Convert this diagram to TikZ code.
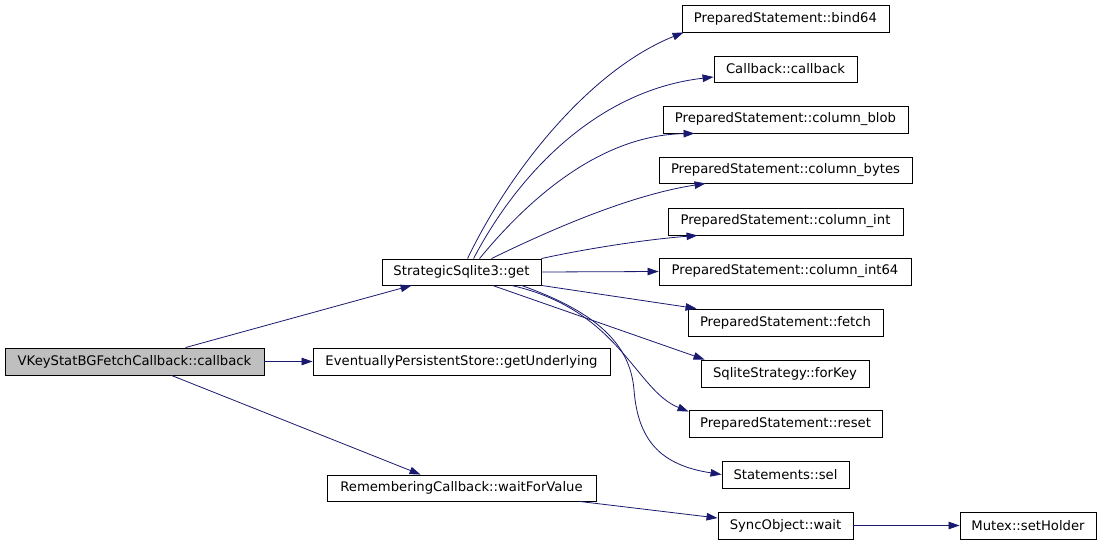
\documentclass[tikz,border=0pt]{standalone}
\usepackage{fontspec}
\setmainfont{DejaVu Sans}
\usetikzlibrary{arrows.meta}
\definecolor{edgeblue}{RGB}{25,25,112}
\definecolor{curgray}{RGB}{191,191,191}
\begin{document}
\begin{tikzpicture}[x=1pt,y=-1pt,
  box/.style={draw=black,line width=0.9pt,inner sep=0pt,font=\fontsize{13.2}{15}\selectfont},
  call/.style={draw=edgeblue,line width=0.8pt,-{Triangle[length=11pt,width=7.5pt]}}]
\useasboundingbox[fill=white] (0,0) rectangle (1101,544);
% nodes
\node[box,fill=curgray,minimum width=259pt,minimum height=27pt] (vkey) at (134.5,361.5) {VKeyStatBGFetchCallback::callback};
\node[box,minimum width=159pt,minimum height=26pt] (get) at (461.5,272) {StrategicSqlite3::get};
\node[box,minimum width=297pt,minimum height=27pt] (eps) at (461.5,361.5) {EventuallyPersistentStore::getUnderlying};
\node[box,minimum width=269pt,minimum height=26pt] (rcb) at (461.5,488) {RememberingCallback::waitForValue};
\node[box,minimum width=207pt,minimum height=27pt] (bind) at (785.5,18.5) {PreparedStatement::bind64};
\node[box,minimum width=143pt,minimum height=26pt] (cb) at (785.5,69) {Callback::callback};
\node[box,minimum width=245pt,minimum height=27pt] (blob) at (785.5,119.5) {PreparedStatement::column\_blob};
\node[box,minimum width=253pt,minimum height=26pt] (bytes) at (785.5,170) {PreparedStatement::column\_bytes};
\node[box,minimum width=235pt,minimum height=27pt] (int) at (785.5,221.5) {PreparedStatement::column\_int};
\node[box,minimum width=252pt,minimum height=27pt] (int64) at (785,271.5) {PreparedStatement::column\_int64};
\node[box,minimum width=195pt,minimum height=27pt] (fetch) at (785.5,322.5) {PreparedStatement::fetch};
\node[box,minimum width=168pt,minimum height=27pt] (forkey) at (785,373.5) {SqliteStrategy::forKey};
\node[box,minimum width=193pt,minimum height=27pt] (reset) at (785.5,423.5) {PreparedStatement::reset};
\node[box,minimum width=127pt,minimum height=27pt] (sel) at (785.5,474.5) {Statements::sel};
\node[box,minimum width=135pt,minimum height=27pt] (wait) at (785.5,525.5) {SyncObject::wait};
\node[box,minimum width=136pt,minimum height=27pt] (holder) at (1028,525.5) {Mutex::setHolder};
% edges from vkey
\draw[call] ([xshift=181pt]vkey.north west) -- ([xshift=30pt]get.south west);
\draw[call] (vkey.east) -- (eps.west);
\draw[call] ([xshift=167pt]vkey.south west) -- ([xshift=94pt]rcb.north west);
% edges from get
\draw[call] ([xshift=86pt]get.north west) .. controls (510,170) and (590,70) .. ([xshift=2pt]bind.south west);
\draw[call] ([xshift=92pt]get.north west) .. controls (520,170) and (600,90) .. ([yshift=-8pt]cb.west);
\draw[call] ([xshift=98pt]get.north west) .. controls (540,185) and (610,135) .. ([xshift=32pt]blob.south west);
\draw[call] ([xshift=110pt]get.north west) .. controls (550,230) and (630,195) .. ([xshift=47pt]bytes.south west);
\draw[call] (get.north east) .. controls (580,250) and (640,240) .. ([xshift=30pt]int.south west);
\draw[call] (get.east) -- (int64.west);
\draw[call] (get.south east) -- ([xshift=9pt]fetch.north west);
\draw[call] ([xshift=111pt]get.south west) -- ([xshift=4pt]forkey.north west);
\draw[call] ([xshift=130pt]get.south west) .. controls (620,310) and (635,390) .. ([yshift=-2pt]reset.north west);
\draw[call] ([xshift=140pt]get.south west) .. controls (590,310) and (630,340) .. (634,390) .. controls (638,440) and (660,465) .. (sel.west);
% other edges
\draw[call] ([xshift=253pt]rcb.south west) -- ([yshift=7.5pt]wait.west);
\draw[call] (wait.east) -- (holder.west);
\end{tikzpicture}
\end{document}
